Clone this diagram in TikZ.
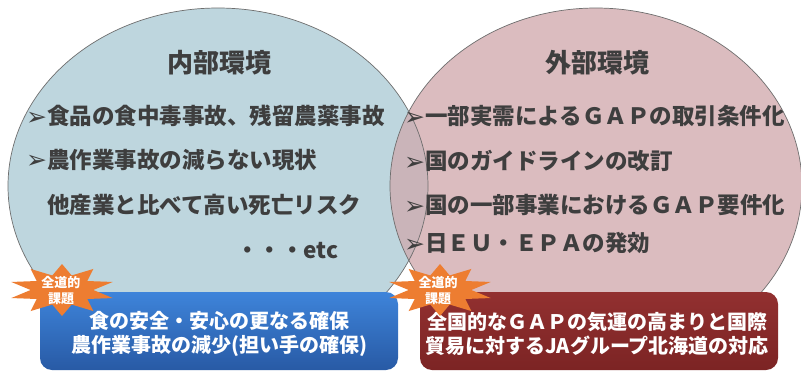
\documentclass[tikz,border=0pt]{standalone}
\usepackage{fontspec}
\setmainfont{Noto Sans CJK JP}
\newfontfamily\arrowfont{DejaVu Sans}
\usetikzlibrary{shapes.geometric}
\definecolor{leftfill}{RGB}{190,214,222}
\definecolor{rightfill}{RGB}{219,188,191}
\definecolor{overlapfill}{RGB}{202,180,185}
\definecolor{edgegray}{RGB}{110,110,110}
\definecolor{txt}{RGB}{62,62,62}
\definecolor{starorange}{RGB}{237,125,49}
\definecolor{bluetop}{RGB}{62,132,218}
\definecolor{bluebot}{RGB}{40,90,165}
\definecolor{redtop}{RGB}{146,48,48}
\definecolor{redbot}{RGB}{124,36,36}
\newcommand{\bul}{\makebox[21pt][l]{\smash{\raisebox{-0.5pt}{\arrowfont\fontsize{25}{25}\selectfont\mdseries ➢}}}}
\tikzset{
  titletext/.style={text=txt, font=\fontsize{26}{30}\selectfont\bfseries, inner sep=0pt},
  itemtext/.style={text=txt, font=\fontsize{22.5}{26}\selectfont\bfseries, inner sep=0pt, anchor=west},
  boxtext/.style={text=white, font=\fontsize{20}{24}\selectfont\bfseries, align=center, inner sep=0pt},
  startext/.style={text=white, font=\fontsize{13}{16}\selectfont\bfseries, align=center, inner sep=0pt},
  starburst/.style={star, star points=10, star point ratio=1.7, fill=starorange, minimum size=52pt, inner sep=0pt, xscale=2.05},
  bluebox/.style={rounded corners=12pt, top color=bluetop, bottom color=bluebot, minimum width=358pt, minimum height=78pt},
  redbox/.style={rounded corners=12pt, top color=redtop, bottom color=redbot, minimum width=358pt, minimum height=78pt},
  ringedge/.style={draw=edgegray, line width=0.7pt}
}
\begin{document}
\begin{tikzpicture}[x=1pt,y=-1pt]
\useasboundingbox (0,0) rectangle (801,372);
\fill[white] (0,0) rectangle (801,372);
\coordinate (lc) at (218,186);
\coordinate (rc) at (596,186);
\fill[leftfill] (lc) ellipse [x radius=210pt, y radius=178pt];
\fill[rightfill] (rc) ellipse [x radius=206pt, y radius=178pt];
\begin{scope}
  \clip (lc) ellipse [x radius=210pt, y radius=178pt];
  \fill[overlapfill] (rc) ellipse [x radius=206pt, y radius=178pt];
\end{scope}
\draw[ringedge] (lc) ellipse [x radius=210pt, y radius=178pt];
\draw[ringedge] (rc) ellipse [x radius=206pt, y radius=178pt];

\node[titletext] (ltitle) at (219,63) {内部環境};
\node[titletext] (rtitle) at (597,63) {外部環境};

\node[itemtext] (l1) at (26,116) {\bul 食品の食中毒事故、残留農薬事故};
\node[itemtext] (l2) at (26,160) {\bul 農作業事故の減らない現状};
\node[itemtext] (l3) at (47,205) {他産業と比べて高い死亡リスク};
\node[itemtext] (l4) at (236,251) {・・・etc};

\node[itemtext] (r1) at (404,116) {\bul 一部実需によるＧＡＰの取引条件化};
\node[itemtext] (r2) at (404,161) {\bul 国のガイドラインの改訂};
\node[itemtext] (r3) at (404,205) {\bul 国の一部事業におけるＧＡＰ要件化};
\node[itemtext] (r4) at (404,243) {\bul 日ＥＵ・ＥＰＡの発効};

\node[bluebox] (lbox) at (219,331) {};
\node[boxtext] (lboxt) at (219,334) {食の安全・安心の更なる確保\\農作業事故の減少(担い手の確保)};
\node[redbox] (rbox) at (599,331) {};
\node[boxtext] (rboxt) at (597,334) {全国的なＧＡＰの気運の高まりと国際\\貿易に対するJAグループ北海道の対応};

\node[starburst] (lstar) at (62,290) {};
\node[startext] (lstart) at (61,291) {全道的\\課題};
\node[starburst] (rstar) at (440,290) {};
\node[startext] (rstart) at (438,291) {全道的\\課題};
\end{tikzpicture}
\end{document}
